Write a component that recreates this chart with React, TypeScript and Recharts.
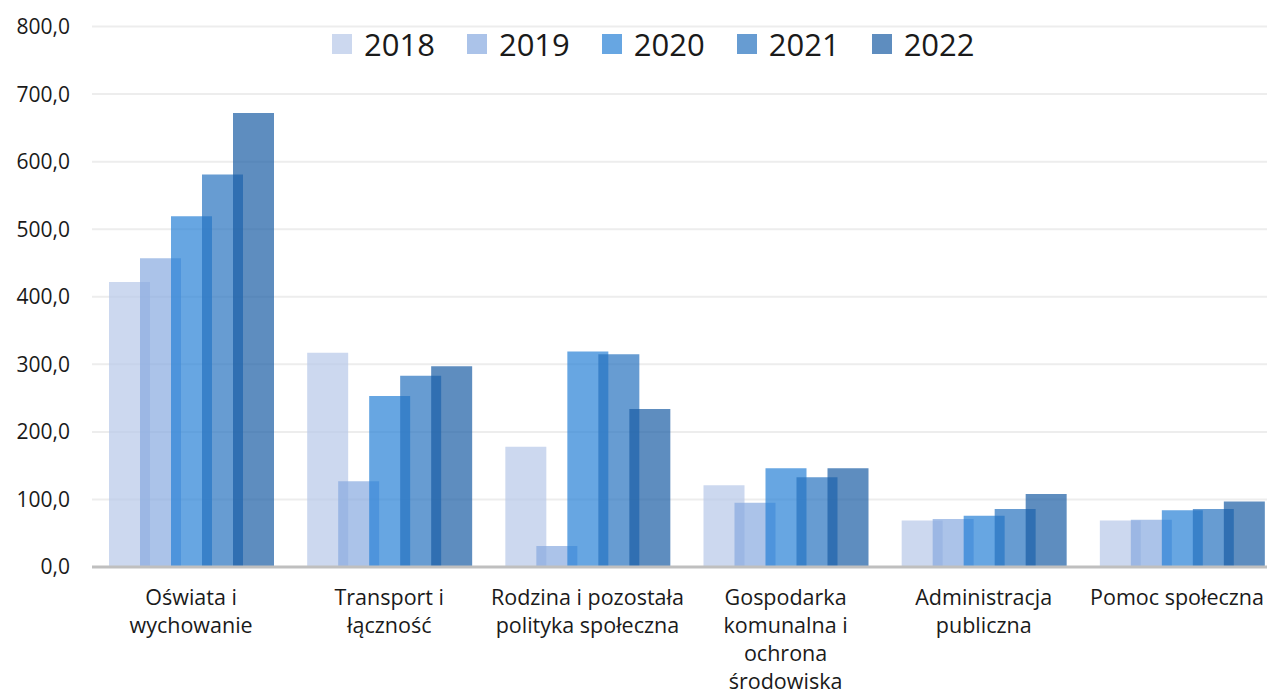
import React from 'react';
import { BarChart, Bar, XAxis, YAxis, CartesianGrid, Legend } from 'recharts';

const categories = [
  'Oświata i wychowanie',
  'Transport i łączność',
  'Rodzina i pozostała polityka społeczna',
  'Gospodarka komunalna i ochrona środowiska',
  'Administracja publiczna',
  'Pomoc społeczna',
];
const years = ['2018', '2019', '2020', '2021', '2022'];
const v2018 = [422, 317, 178, 121, 69, 69];
const v2019 = [457, 127, 31, 95, 71, 70];
const v2020 = [519, 253, 319, 146, 76, 84];
const v2021 = [581, 283, 315, 133, 86, 86];
const v2022 = [672, 297, 234, 146, 108, 97];
const yTicks = [0, 100, 200, 300, 400, 500, 600, 700, 800];

const seriesValues = [v2018, v2019, v2020, v2021, v2022];
const colors = ['#B6C7E8', '#87A9E0', '#2780D6', '#2772BF', '#1A5CA4'];
const ALPHA = 0.7;
const TEXT = '#1a1a1a';
const FONT = '"Open Sans", sans-serif';
const LABEL_FONT = '21.5px "Open Sans"';
const VISIBLE_RIGHT = 1264;

const data = categories.map((name, i) => {
  const row: Record<string, string | number> = { name };
  years.forEach((y, k) => {
    row[y] = seriesValues[k][i];
  });
  return row;
});

let canvasCtx: CanvasRenderingContext2D | null = null;
function getCtx(font: string) {
  if (!canvasCtx) {
    canvasCtx = document.createElement('canvas').getContext('2d');
  }
  canvasCtx!.font = font;
  return canvasCtx!;
}

function wrapText(text: string, maxW: number, font: string): string[] {
  const ctx = getCtx(font);
  const words = text.split(' ');
  const lines: string[] = [];
  let cur = '';
  for (const w of words) {
    const test = cur ? cur + ' ' + w : w;
    if (cur && ctx.measureText(test).width > maxW) {
      lines.push(cur);
      cur = w;
    } else {
      cur = test;
    }
  }
  if (cur) lines.push(cur);
  return lines;
}

const CategoryTick = (props: any) => {
  const { x, y, payload } = props;
  const lines = wrapText(String(payload.value), 197, LABEL_FONT);
  const ctx = getCtx(LABEL_FONT);
  const maxW = Math.max(...lines.map((l) => ctx.measureText(l).width));
  let cx = x;
  if (cx + maxW / 2 > VISIBLE_RIGHT) cx = VISIBLE_RIGHT - maxW / 2;
  return (
    <text textAnchor="middle" fill={TEXT} fontFamily={FONT} fontSize={21.5}>
      {lines.map((l, i) => (
        <tspan key={i} x={cx} y={y + 38 + i * 28}>
          {l}
        </tspan>
      ))}
    </text>
  );
};

const LegendContent = () => (
  <div style={{ display: 'flex', alignItems: 'center', height: 32 }}>
    {years.map((y, i) => (
      <div
        key={y}
        style={{ display: 'flex', alignItems: 'center', marginRight: i < years.length - 1 ? 32 : 0 }}
      >
        <span
          style={{
            display: 'inline-block',
            width: 20,
            height: 20,
            background: colors[i],
            opacity: ALPHA,
            marginRight: 12,
          }}
        />
        <span style={{ fontFamily: FONT, fontSize: 31, lineHeight: '32px', color: TEXT }}>{y}</span>
      </div>
    ))}
  </div>
);

const fmt = (v: number) => v.toFixed(1).replace('.', ',');

export default function App() {
  return (
    <div
      style={{
        position: 'absolute',
        left: 0,
        top: 0,
        width: 1267,
        height: 695,
        overflow: 'hidden',
        background: '#ffffff',
      }}
    >
      <BarChart
        width={1281}
        height={695}
        data={data}
        margin={{ top: 26.5, right: 0, left: 0, bottom: 0 }}
        barSize={41}
        barGap={-10}
      >
        <CartesianGrid vertical={false} stroke="#EDEDED" strokeWidth={2} />
        <YAxis
          width={92}
          domain={[0, 800]}
          ticks={yTicks}
          tickFormatter={fmt}
          axisLine={false}
          tickLine={false}
          tickMargin={16}
          tick={{ fontSize: 21, fill: TEXT, fontFamily: FONT }}
          interval={0}
        />
        {years.map((y, i) => (
          <Bar key={y} dataKey={y} fill={colors[i]} fillOpacity={ALPHA} isAnimationActive={false} />
        ))}
        <XAxis
          dataKey="name"
          height={128}
          axisLine={{ stroke: '#BFBFBF', strokeWidth: 3 }}
          tickLine={false}
          tickSize={0}
          tickMargin={0}
          interval={0}
          tick={<CategoryTick />}
        />
        <Legend
          layout="horizontal"
          verticalAlign="middle"
          align="center"
          content={() => <LegendContent />}
          wrapperStyle={{ top: 28, left: 332, width: 'auto', height: 32 }}
        />
      </BarChart>
    </div>
  );
}
